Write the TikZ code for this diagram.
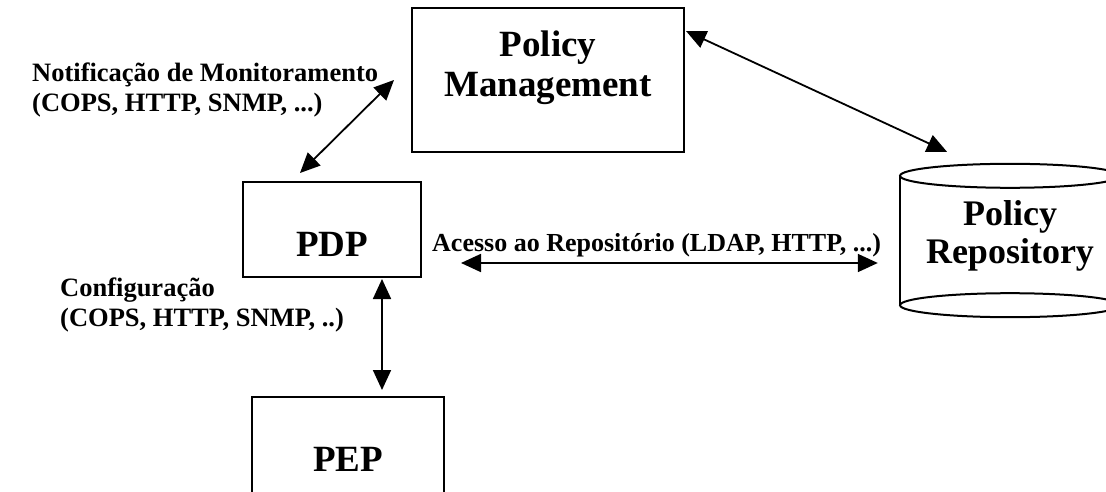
\documentclass[tikz,border=0pt]{standalone}
\usepackage{fontspec}
\setmainfont{Liberation Serif}
\usetikzlibrary{arrows.meta, positioning, calc}
\tikzset{
  box/.style     = {draw=black, line width=2pt, inner sep=0pt},
  boxtext/.style = {font=\fontsize{37}{40}\selectfont\bfseries, align=center, inner sep=0pt},
  lbl/.style     = {font=\fontsize{26.5}{30}\selectfont\bfseries, align=left, inner sep=0pt},
  arrow/.style   = {{Triangle[length=20pt,width=18pt]}-{Triangle[length=20pt,width=18pt]},
                    line width=1.8pt},
}

\begin{document}
\begin{tikzpicture}[x=1pt, y=-1pt]
  \clip (0,0) rectangle (1106,492);
  % boxes
  \node[box, minimum width=272pt, minimum height=144pt] (pm) at (548,80) {};
  \node[boxtext] (pmtxt) at ([yshift=12pt]pm.center) {Policy\\Management};
  \node[box, minimum width=178pt, minimum height=95pt] (pdp) at (332,229.5) {};
  \node[boxtext] (pdptxt) at ([yshift=-15pt]pdp.center) {PDP};
  \node[box, minimum width=192pt, minimum height=130pt] (pep) at (348,462) {};
  \node[boxtext] (peptxt) at ([yshift=3pt]pep.center) {PEP};
  % repository (cylinder)
  \node[minimum width=220pt, minimum height=129pt, inner sep=0pt] (repo) at (1010,240.5) {};
  \draw[line width=2pt] (repo.north) ellipse [x radius=110pt, y radius=12pt];
  \draw[line width=2pt] (repo.south) ellipse [x radius=110pt, y radius=12pt];
  \draw[line width=2pt] (repo.north west) -- (repo.south west);
  \draw[line width=2pt] (repo.north east) -- (repo.south east);
  \node[boxtext, font=\fontsize{36}{38}\selectfont\bfseries] (repotxt)
    at ([yshift=5pt]repo.center) {Policy\\Repository};
  % connectors
  \draw[arrow] ([xshift=-32pt,yshift=8pt]pdp.north) -- ([xshift=-17pt]pm.west);
  \draw[arrow] ([xshift=1pt,yshift=-24pt]pm.north east) -- ([xshift=-63pt,yshift=24pt]repo.north);
  \draw[arrow] ([xshift=39pt,yshift=-33.5pt]pdp.east) -- ([xshift=-22pt,yshift=-22.5pt]repo.west);
  \draw[arrow] ([xshift=50pt,yshift=-1pt]pdp.south) -- ([xshift=34pt,yshift=6pt]pep.north);
  % labels
  \node[lbl, anchor=north west] (notif) at (32,63)
    {Notificação de Monitoramento\\(COPS, HTTP, SNMP, ...)};
  \node[lbl, anchor=north west] (config) at (60,278)
    {Configuração\\(COPS, HTTP, SNMP, ..)};
  \node[lbl, font=\fontsize{26}{30}\selectfont\bfseries, anchor=base west] (acesso) at (432,251)
    {Acesso ao Repositório (LDAP, HTTP, ...)};
\end{tikzpicture}
\end{document}
